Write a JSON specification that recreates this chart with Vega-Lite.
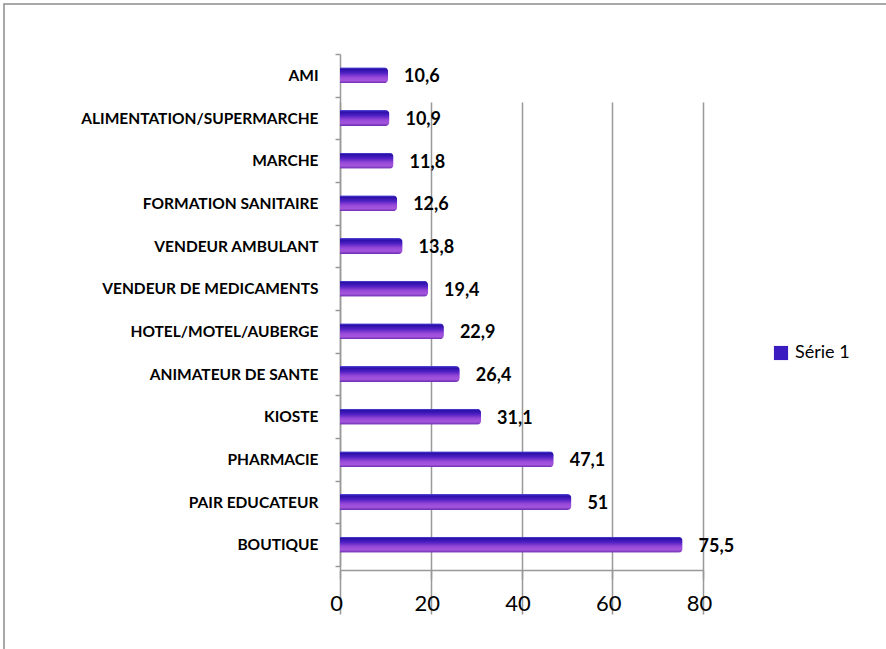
{
  "$schema": "https://vega.github.io/schema/vega-lite/v6.json",
  "width": 890,
  "height": 660,
  "autosize": "none",
  "padding": {"left": 4, "top": 4, "right": 0, "bottom": 0},
  "background": "white",
  "config": {
    "view": {"stroke": "#8c8c8c", "strokeWidth": 1.5},
    "locale": {"number": {"decimal": ",", "thousands": " ", "grouping": [3], "currency": ["", " €"]}},
    "font": "Lato"
  },
  "data": {
    "values": [
      {"cat": "AMI", "val": 10.6, "serie": "Série 1"},
      {"cat": "ALIMENTATION/SUPERMARCHE", "val": 10.9, "serie": "Série 1"},
      {"cat": "MARCHE", "val": 11.8, "serie": "Série 1"},
      {"cat": "FORMATION SANITAIRE", "val": 12.6, "serie": "Série 1"},
      {"cat": "VENDEUR AMBULANT", "val": 13.8, "serie": "Série 1"},
      {"cat": "VENDEUR DE MEDICAMENTS", "val": 19.4, "serie": "Série 1"},
      {"cat": "HOTEL/MOTEL/AUBERGE", "val": 22.9, "serie": "Série 1"},
      {"cat": "ANIMATEUR DE SANTE", "val": 26.4, "serie": "Série 1"},
      {"cat": "KIOSTE", "val": 31.1, "serie": "Série 1"},
      {"cat": "PHARMACIE", "val": 47.1, "serie": "Série 1"},
      {"cat": "PAIR EDUCATEUR", "val": 51, "serie": "Série 1"},
      {"cat": "BOUTIQUE", "val": 75.5, "serie": "Série 1"}
    ]
  },
  "encoding": {
    "y": {
      "field": "cat", "type": "nominal", "sort": null,
      "scale": {"range": [50, 562], "paddingInner": 0, "paddingOuter": 0},
      "axis": {
        "title": null, "offset": -336, "domainColor": "#999999", "domainWidth": 1.5,
        "tickBand": "extent", "tickColor": "#999999", "tickWidth": 1.5, "tickSize": 5,
        "labelFont": "Lato", "labelFontWeight": "bold", "labelFontSize": 15.5,
        "labelColor": "#000000", "labelPadding": 17, "labelLimit": 400
      }
    },
    "x": {
      "field": "val", "type": "quantitative",
      "scale": {"domain": [0, 80], "range": [336, 699], "nice": false},
      "axis": {
        "title": null, "values": [0, 20, 40, 60, 80], "offset": -94,
        "domainColor": "#999999", "domainWidth": 1.5,
        "tickColor": "#999999", "tickWidth": 1.5, "tickSize": 9,
        "grid": true, "gridColor": "#999999", "gridWidth": 1.5,
        "labelFont": "Lato", "labelFontSize": 22, "labelColor": "#000000",
        "labelPadding": 14, "labelOffset": -4, "labelFlush": false
      }
    }
  },
  "layer": [
    {
      "mark": {"type": "bar", "size": 16, "cornerRadiusEnd": 4,
        "fill": {"gradient": "linear", "x1": 0, "y1": 0, "x2": 0, "y2": 1, "stops": [
          {"offset": 0, "color": "#5a4fe0"},
          {"offset": 0.12, "color": "#2a10a8"},
          {"offset": 0.35, "color": "#5020c4"},
          {"offset": 0.62, "color": "#9848d8"},
          {"offset": 0.82, "color": "#a456dc"},
          {"offset": 1, "color": "#6a2ab0"}
        ]}
      }
    },
    {
      "mark": {"type": "point", "shape": "square", "filled": true, "opacity": 0},
      "encoding": {
        "color": {
          "field": "serie", "type": "nominal",
          "scale": {"range": ["#3a1cc0"]},
          "legend": {
            "title": null, "orient": "none", "legendX": 768, "legendY": 340,
            "padding": 0, "symbolType": "square", "symbolSize": 200, "symbolStrokeWidth": 0,
            "symbolOpacity": 1,
            "labelFont": "Lato", "labelFontSize": 18, "labelColor": "#000000", "labelOffset": 5
          }
        }
      }
    },
    {
      "mark": {"type": "text", "align": "left", "baseline": "middle", "dx": 16, "dy": 2, "fontWeight": "bold", "fontSize": 18, "font": "Lato", "color": "#000000"},
      "encoding": {
        "text": {"field": "val", "type": "quantitative", "format": "~g"}
      }
    }
  ]
}
